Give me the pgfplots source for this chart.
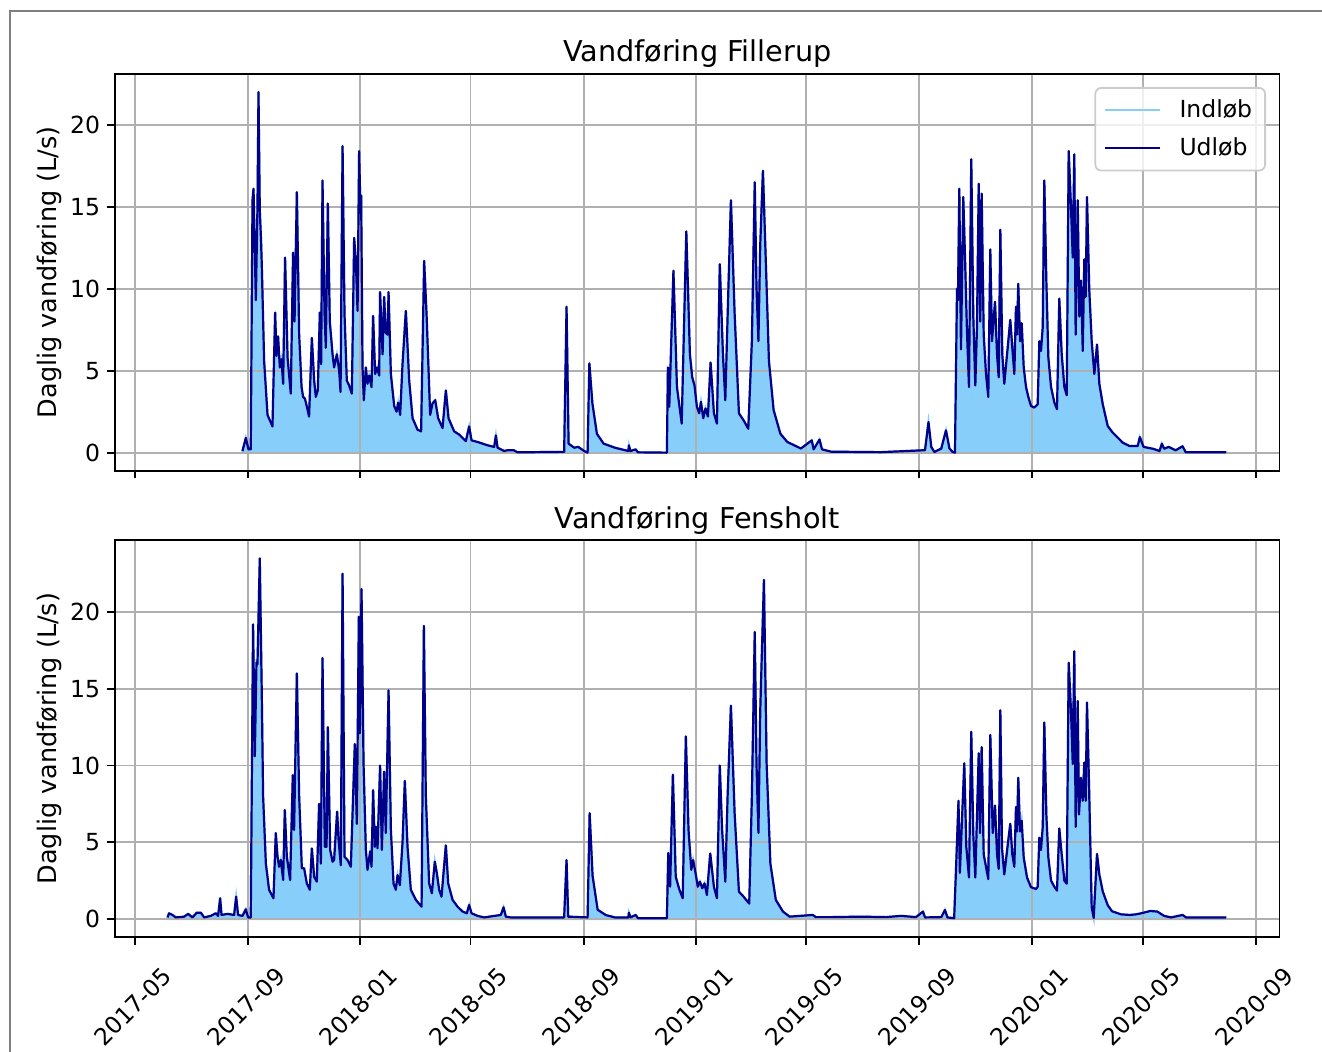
\documentclass[border=0pt]{standalone}
\usepackage{fontspec}
\setmainfont{DejaVu Sans}
\usepackage{pgfplots}
\usepackage{pgfplotstable}
\pgfplotsset{compat=1.18}
\definecolor{skyfill}{RGB}{135,206,250}
\definecolor{outline}{RGB}{0,0,139}
\definecolor{gridgray}{RGB}{176,176,176}
\definecolor{legframe}{RGB}{204,204,204}

% x = days since 2017-05-01
\pgfplotstableread{
x y
117.1 0.1
120.7 0.9
123.6 0.2
126.1 0.2
128.0 15.4
129.1 16.1
131.6 9.3
133.4 15.0
134.5 22.0
135.9 14.8
137.3 12.9
138.1 11.4
140.6 5.6
144.3 2.3
149.7 1.6
152.6 8.55
154.1 5.9
155.8 7.1
157.7 5.2
159.5 5.7
161.3 4.2
163.4 11.9
166.1 5.8
169.6 3.6
172.1 12.2
173.7 8.0
176.2 15.9
178.7 7.2
181.3 4.0
183.0 3.4
184.9 3.3
186.7 2.9
189.5 2.2
192.5 7.0
195.0 4.4
196.8 3.4
199.0 3.8
201.2 8.55
202.6 5.4
204.1 16.6
206.3 8.45
207.7 6.4
209.9 15.2
212.0 8.0
215.0 6.0
216.7 5.2
219.7 6.0
222.2 5.0
223.7 3.7
225.9 18.7
228.0 8.45
230.5 4.4
233.0 4.1
236.0 3.6
238.5 13.1
240.3 11.7
242.2 8.65
243.9 18.4
245.4 14.6
246.1 15.7
247.6 5.2
249.0 3.2
251.2 5.2
253.0 4.2
254.8 4.7
257.4 4.0
259.1 8.35
261.3 4.8
263.5 5.2
265.7 4.7
266.7 9.8
269.4 6.0
271.1 9.5
272.9 7.3
274.8 7.2
275.9 9.8
278.4 4.8
282.0 2.85
284.6 2.5
286.3 3.05
288.5 2.3
291.1 5.4
294.7 8.65
298.3 4.4
302.0 2.1
307.4 1.4
311.3 1.3
314.6 11.7
317.2 8.45
321.1 2.3
323.7 3.0
326.6 3.2
329.8 2.1
334.6 1.5
338.2 3.8
341.1 2.1
347.2 1.3
352.7 1.1
359.9 0.7
363.5 1.6
366.1 0.75
372.7 0.65
383.5 0.45
390.7 0.35
392.6 1.05
394.4 0.3
401.6 0.1
405.3 0.15
411.8 0.15
416.2 0.02
466.8 0.05
469.4 8.9
471.6 0.55
477.7 0.3
482.1 0.35
488.6 0.1
492.3 0.0
494.2 5.45
497.5 3.0
502.4 1.15
509.7 0.55
522.0 0.3
536.6 0.1
537.2 0.45
538.8 0.1
544.6 0.2
547.0 0.02
578.5 0.0
579.6 5.2
581.1 2.8
585.6 11.1
589.4 4.0
594.6 1.77
599.6 13.5
603.5 6.0
606.0 4.6
608.5 4.1
611.1 2.8
613.6 2.4
615.5 3.1
618.0 2.1
620.5 2.7
623.1 2.2
626.0 5.5
629.6 2.4
632.9 1.77
636.0 11.5
639.4 6.0
642.0 3.2
644.5 8.3
648.1 15.4
652.1 8.5
656.8 2.4
661.9 1.97
667.0 1.46
670.9 6.8
674.0 16.5
675.9 10.1
678.0 6.8
680.0 12.7
682.9 17.2
686.0 11.7
689.4 5.6
694.5 2.6
701.9 1.15
709.4 0.65
716.9 0.45
724.2 0.25
736.0 0.75
738.0 0.2
744.4 0.8
747.1 0.2
756.9 0.06
811.2 0.03
859.1 0.15
862.9 1.87
865.9 0.35
869.3 0.04
876.8 0.25
881.9 1.36
885.7 0.25
889.2 0.04
891.7 0.0
893.9 10.0
894.9 9.3
896.4 16.1
898.2 6.3
900.7 15.6
902.6 11.9
904.7 7.45
906.9 4.0
909.4 17.9
911.6 8.3
913.8 4.1
915.6 7.65
917.5 16.4
919.2 8.0
920.7 15.8
922.9 7.2
925.4 4.8
927.9 3.4
930.1 12.4
931.9 6.8
935.2 9.2
937.4 6.0
939.2 4.6
941.0 13.6
943.1 6.0
945.3 4.2
949.0 6.4
951.8 8.1
954.0 6.4
956.2 4.8
958.0 8.9
959.1 7.2
960.5 10.3
962.4 6.8
964.2 7.9
966.4 5.2
968.9 4.0
971.4 3.4
974.3 2.85
977.9 2.75
981.6 2.95
983.4 6.8
985.2 6.2
987.1 7.65
988.8 16.6
991.0 10.5
993.2 5.8
996.1 4.0
999.7 3.06
1002.6 2.65
1005.1 9.4
1007.7 6.0
1010.6 4.0
1013.2 3.5
1015.3 18.4
1017.8 15.0
1019.7 11.9
1021.4 18.2
1022.9 7.2
1025.1 15.4
1026.9 8.3
1028.7 10.5
1030.6 6.2
1032.3 11.8
1033.8 9.5
1035.2 15.6
1037.7 9.9
1040.3 6.8
1043.2 4.8
1046.1 6.6
1048.6 4.2
1052.3 2.96
1057.7 1.63
1063.2 1.22
1068.6 0.92
1074.0 0.61
1081.2 0.41
1090.4 0.41
1092.7 0.95
1096.7 0.35
1106.7 0.24
1114.1 0.1
1116.6 0.55
1119.0 0.24
1124.1 0.35
1131.5 0.14
1139.1 0.39
1142.6 0.02
1186.4 0.02
}\fillerup

\pgfplotstableread{
x y
35.6 0.1
37.3 0.37
41.0 0.26
44.6 0.1
53.6 0.15
58.0 0.33
62.7 0.1
67.4 0.41
71.8 0.41
75.4 0.1
82.6 0.2
88.1 0.37
90.6 0.2
92.8 1.35
94.3 0.26
100.8 0.33
108.0 0.26
110.2 1.45
112.3 0.26
117.1 0.2
120.7 0.63
123.2 0.1
126.1 0.1
128.6 19.2
130.5 10.6
132.3 16.7
133.4 16.6
135.9 23.5
138.1 14.5
139.5 8.0
142.5 3.6
146.0 1.9
150.8 1.35
153.3 5.6
155.2 4.05
156.9 3.4
158.8 3.84
161.3 2.54
163.1 7.1
165.3 4.05
168.9 2.54
171.8 9.37
173.2 5.8
176.2 16.0
178.7 8.0
181.6 3.3
184.1 3.3
187.0 2.32
190.3 1.9
192.5 4.6
195.0 2.75
197.9 2.43
200.4 7.5
202.3 3.6
204.1 17.0
206.6 4.7
208.5 4.7
209.9 12.5
212.4 4.5
215.0 3.73
216.7 3.84
220.0 7.0
221.5 5.2
224.0 3.5
225.9 22.5
228.0 4.05
231.3 3.84
234.9 3.4
239.2 11.4
241.4 6.2
243.6 19.7
244.7 12.1
246.5 21.5
248.7 10.1
251.2 4.5
253.0 3.2
255.9 4.4
257.4 3.4
259.1 8.4
261.0 4.7
262.4 6.0
263.9 4.6
266.7 10.0
268.6 4.5
271.1 9.6
272.9 5.6
275.9 14.9
278.4 5.8
281.3 2.3
283.8 1.9
285.7 2.86
288.2 2.2
291.1 5.0
293.6 9.0
296.5 4.7
300.1 1.9
305.6 1.24
311.8 0.8
314.3 19.1
316.4 8.0
320.0 2.32
323.0 1.67
326.2 3.73
328.4 2.97
330.9 1.9
333.5 1.45
338.2 4.8
340.7 2.32
345.5 1.24
350.9 0.8
356.4 0.48
361.0 0.37
363.5 0.91
366.1 0.37
372.7 0.2
379.8 0.1
398.0 0.26
400.9 0.76
403.4 0.15
408.9 0.1
466.8 0.1
469.4 3.84
471.2 0.15
492.3 0.1
494.5 6.9
497.7 2.8
503.2 0.6
512.2 0.25
522.0 0.1
536.6 0.1
537.2 0.41
538.8 0.1
544.6 0.26
547.0 0.05
578.5 0.05
580.0 4.3
582.0 2.1
585.0 9.4
588.1 2.75
592.1 1.9
595.7 1.35
599.1 11.9
602.0 5.8
605.0 3.2
607.0 3.84
609.6 3.0
612.1 2.1
614.4 2.43
617.0 2.0
619.4 2.32
622.0 1.56
625.6 4.27
629.6 2.1
632.9 1.35
636.0 10.0
638.5 5.8
642.0 2.43
644.5 8.0
648.1 13.9
652.1 6.9
656.8 1.78
661.9 1.45
668.0 1.0
670.9 8.0
674.0 18.7
675.9 10.1
678.0 5.6
680.0 13.6
684.0 22.1
686.9 10.1
691.0 3.6
696.9 1.24
704.7 0.48
711.9 0.15
737.0 0.26
740.5 0.12
756.9 0.12
789.5 0.15
816.7 0.12
833.0 0.2
849.3 0.12
856.9 0.48
859.1 0.1
876.8 0.12
880.8 0.59
883.5 0.1
890.8 0.05
892.8 3.2
895.5 7.7
897.0 3.0
901.8 10.15
904.0 4.7
906.9 2.7
909.4 12.2
911.6 5.5
913.8 2.7
917.5 10.8
918.9 5.6
920.7 11.2
922.9 4.2
927.9 2.6
930.1 12.0
932.7 5.6
935.2 7.4
937.4 4.2
939.2 3.26
941.0 13.6
942.8 4.6
945.3 2.9
949.0 4.8
951.8 6.2
954.0 4.2
956.2 3.4
958.0 7.3
959.1 5.7
960.5 9.2
962.4 5.7
964.2 6.4
966.4 4.0
970.0 2.7
974.3 2.07
979.8 1.95
981.6 2.1
983.4 5.3
985.2 4.5
987.1 6.0
988.8 12.8
991.0 6.8
993.2 4.0
996.1 2.5
999.7 2.1
1002.6 1.85
1005.1 5.9
1007.7 4.2
1010.6 2.5
1013.2 2.3
1015.3 16.7
1017.8 13.6
1019.7 10.1
1021.4 17.45
1022.9 6.0
1025.1 14.2
1026.5 6.8
1028.7 9.2
1030.6 7.7
1032.3 10.2
1033.8 7.7
1035.2 14.1
1037.4 8.8
1040.3 0.76
1042.5 0.07
1046.1 4.24
1048.6 2.9
1052.3 1.8
1057.7 0.9
1062.4 0.5
1072.2 0.3
1081.7 0.26
1088.5 0.3
1094.2 0.37
1104.1 0.52
1111.7 0.48
1119.0 0.2
1126.6 0.1
1139.1 0.26
1142.9 0.1
1186.4 0.1
}\fensholt

\pgfplotsset{
  panel/.style={
    scale only axis, width=582.25bp, height=198.35bp,
    xmin=-21.5, xmax=1244.5,
    xtick={0,123,245,365,488,610,730,853,975,1096,1219},
    ytick={0,5,10,15,20},
    tick align=outside, tick pos=left,
    major tick length=3.9bp,
    tick style={black, line width=0.9bp},
    axis line style={line width=0.9bp},
    grid=major,
    major grid style={gridgray, line width=0.9bp},
    set layers,
    /pgf/number format/assume math mode=true,
    ticklabel style={font=\fontsize{11.8}{14}\selectfont},
    every axis title/.style={at={(0.5,1)}, anchor=base, yshift=6bp, font=\fontsize{14.4}{17}\selectfont},
    every axis y label/.style={at={(axis description cs:0,0.5)}, rotate=90, anchor=south, inner sep=0pt, yshift=26.5bp, font=\fontsize{12.8}{15}\selectfont},
    ylabel={Daglig vandføring (L/s)},
    legend image code/.code={\draw[#1] (0bp,0bp) -- (27.5bp,0bp);},
  },
}

\begin{document}
\begin{tikzpicture}
\path (0bp,0bp) rectangle (661bp,526bp);
\draw[line width=1bp, color=gray] (5bp,0bp) -- (5bp,520.5bp) -- (661bp,520.5bp);

\begin{axis}[panel,
  at={(57.5bp,290.65bp)}, anchor=south west,
  ymin=-1.1, ymax=23.1,
  xticklabels={},
  title={Vandføring Fillerup},
  legend style={at={(1,1)}, anchor=north east, xshift=-6.75bp, yshift=-6.5bp,
    draw=legframe, line width=0.9bp, rounded corners=3bp, fill=white, fill opacity=0.8,
    text opacity=1, font=\fontsize{11.8}{14}\selectfont, inner xsep=4.5bp, inner ysep=4bp,
    row sep=4.5bp, /tikz/every odd column/.append style={column sep=7bp}},
  legend cell align=left,
]
\addplot[on layer=axis background, fill=skyfill, draw=skyfill, line width=1.1bp, forget plot] table[x=x,y=y] {\fillerup} \closedcycle;
\addlegendimage{skyfill, line width=1.1bp}
\addlegendentry{Indløb}
\addplot[outline, line width=1.1bp, line join=round] table[x=x,y=y] {\fillerup};
\addlegendentry{Udløb}
\end{axis}

\begin{axis}[panel,
  at={(57.5bp,57.5bp)}, anchor=south west,
  ymin=-1.175, ymax=24.675,
  xticklabels={2017-05,2017-09,2018-01,2018-05,2018-09,2019-01,2019-05,2019-09,2020-01,2020-05,2020-09},
  xticklabel style={rotate=45, anchor=center, xshift=-22.6bp, yshift=-21.2bp},
  title={Vandføring Fensholt},
]
\addplot[on layer=axis background, fill=skyfill, draw=skyfill, line width=1.1bp, forget plot] table[x=x,y=y] {\fensholt} \closedcycle;
\addplot[outline, line width=1.1bp, line join=round] table[x=x,y=y] {\fensholt};
\end{axis}
\pgfresetboundingbox
\useasboundingbox (0bp,0bp) rectangle (661bp,526bp);
\end{tikzpicture}
\end{document}
